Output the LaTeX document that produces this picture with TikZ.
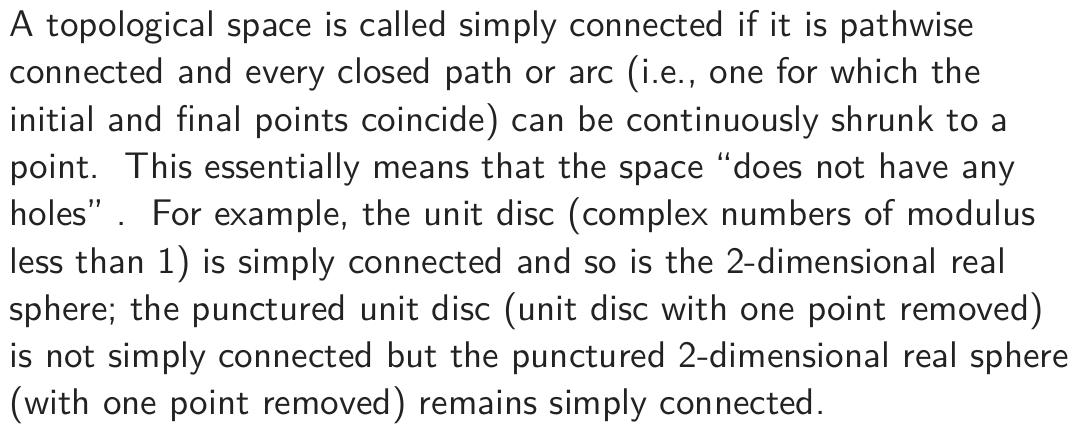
\documentclass[tikz,border=0pt]{standalone}
\usepackage{xcolor}
\definecolor{inkgray}{HTML}{222222}
\tikzset{
  paraline/.style={anchor=base west, inner sep=0pt, text=inkgray,
    font=\fontsize{10.55pt}{12pt}\selectfont\sffamily}
}
\begin{document}
\begin{tikzpicture}
  % Page frame
  \useasboundingbox (0,0) rectangle (10.79,4.45);
  \fill[white] (0,0) rectangle (10.79,4.45);

  % Definition text, one node per printed line
  \foreach \txt [count=\i] in {
      {A topological space is called simply connected if it is pathwise},
      {connected and every closed path or arc (i.e., one for which the},
      {initial and final points coincide) can be continuously shrunk to a},
      {point.\ \ This essentially means that the space ``does not have any},
      {holes''\ .\ \ For example, the unit disc (complex numbers of modulus},
      {less than 1) is simply connected and so is the 2-dimensional real},
      {sphere; the punctured unit disc (unit disc with one point removed)},
      {is not simply connected but the punctured 2-dimensional real sphere},
      {(with one point removed) remains simply connected.}}
    \node[paraline] (line\i) at (0.09,{4.45-0.367-(\i-1)*0.4727}) {\txt};
\end{tikzpicture}
\end{document}
